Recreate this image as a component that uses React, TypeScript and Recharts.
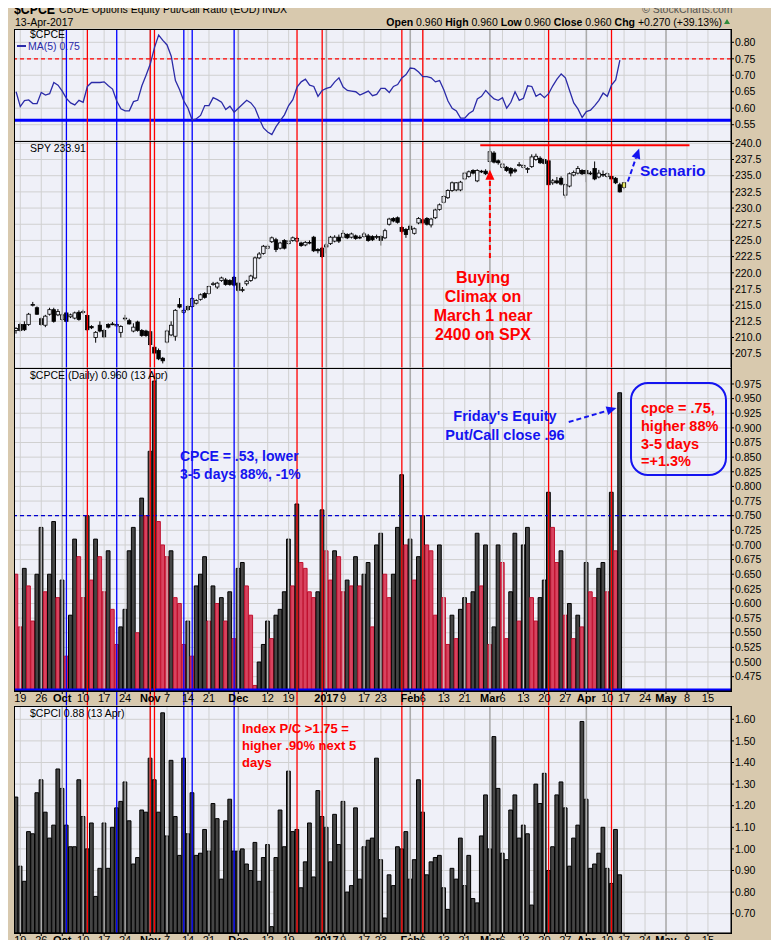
import React from 'react';
import { ComposedChart, Bar, Line, XAxis, YAxis, CartesianGrid, ReferenceLine, Cell } from 'recharts';

// $CPCE daily close, Sep 16 2016 .. Apr 13 2017
const cpce = [
  0.65, 0.56, 0.66, 0.63, 0.57, 0.65, 0.73, 0.62, 0.65, 0.74,
  0.61, 0.64, 0.51, 0.58, 0.71, 0.68, 0.61, 0.75, 0.64, 0.71,
  0.68, 0.62, 0.69, 0.59, 0.53, 0.56, 0.59, 0.69, 0.73, 0.55,
  0.78, 0.75, 0.86, 0.98, 0.74, 0.70, 0.68, 0.69, 0.61, 0.60,
  0.53, 0.57, 0.51, 0.63, 0.65, 0.68, 0.57, 0.63, 0.60, 0.61,
  0.57, 0.62, 0.54, 0.66, 0.67, 0.63, 0.58, 0.46, 0.50, 0.53,
  0.57, 0.54, 0.58, 0.59, 0.62, 0.71, 0.63, 0.77, 0.67, 0.66,
  0.62, 0.61, 0.62, 0.76, 0.69, 0.64, 0.69, 0.68, 0.62, 0.64,
  0.63, 0.68, 0.63, 0.65, 0.67, 0.56, 0.70, 0.72, 0.65, 0.61,
  0.65, 0.73, 0.82, 0.70, 0.71, 0.64, 0.68, 0.75, 0.70, 0.69,
  0.58, 0.70, 0.61, 0.53, 0.58, 0.54, 0.59, 0.61, 0.60, 0.62,
  0.72, 0.63, 0.70, 0.53, 0.56, 0.70, 0.67, 0.54, 0.62, 0.72,
  0.57, 0.70, 0.73, 0.61, 0.57, 0.61, 0.64, 0.79, 0.73, 0.67,
  0.69, 0.58, 0.60, 0.54, 0.58, 0.56, 0.67, 0.62, 0.61, 0.66,
  0.67, 0.62, 0.79, 0.69, 0.96,
];

// $CPCI daily close, same days
const cpci = [
  1.24, 0.92, 0.85, 1.08, 1.07, 1.26, 1.32, 1.17, 1.05, 1.11,
  1.37, 1.28, 1.11, 1.01, 1.01, 1.32, 1.15, 1.00, 1.12, 0.78,
  0.91, 1.12, 0.91, 1.10, 1.19, 1.22, 1.31, 1.13, 0.93, 0.96,
  1.18, 1.17, 1.42, 1.32, 1.17, 1.63, 1.06, 1.41, 1.15, 0.97,
  1.42, 1.07, 1.26, 0.97, 0.98, 1.09, 0.99, 1.21, 1.14, 0.86,
  1.13, 1.23, 0.99, 0.99, 1.00, 0.93, 0.90, 1.03, 0.85, 0.96,
  1.02, 0.64, 0.96, 1.18, 1.01, 1.36, 1.08, 1.09, 0.82, 0.94,
  1.12, 0.87, 1.27, 1.15, 1.10, 0.94, 1.16, 1.02, 1.22, 0.80,
  0.83, 1.19, 0.86, 1.01, 1.04, 1.05, 1.42, 0.95, 0.68, 0.88,
  0.83, 1.01, 1.00, 1.08, 0.86, 0.95, 1.32, 1.17, 0.88, 0.94,
  0.96, 0.97, 0.82, 0.72, 0.91, 0.86, 1.05, 0.83, 0.97, 0.77,
  0.75, 1.06, 1.25, 1.00, 1.52, 1.28, 0.98, 0.95, 1.18, 1.25,
  1.05, 1.11, 1.07, 0.74, 1.30, 1.21, 1.35, 0.90, 1.01, 1.25,
  1.31, 1.19, 0.92, 1.05, 1.11, 1.59, 1.23, 0.91, 0.93, 0.98,
  1.10, 0.91, 0.84, 1.09, 0.88,
];

// SPY candles, Sep 16 2016 .. Apr 17 2017 (last one is the live bar)
const spyOpen = [
  211.1, 212.0, 212.0, 212.0, 215.0, 214.6, 212.9, 211.9, 213.6, 214.3,
  213.5, 212.8, 213.8, 213.2, 213.0, 213.9, 213.9, 213.4, 211.7, 210.0,
  211.9, 211.1, 212.0, 212.1, 211.8, 210.8, 212.9, 212.6, 211.0, 212.4,
  211.1, 211.0, 210.9, 208.5, 208.0, 206.8, 209.3, 210.4, 210.2, 215.1,
  213.9, 214.8, 214.8, 215.3, 215.9, 216.8, 216.8, 218.2, 217.8, 218.8,
  218.9, 218.8, 219.3, 218.4, 217.4, 218.3, 218.8, 219.2, 222.3, 223.0,
  223.8, 224.8, 225.1, 223.8, 225.0, 224.5, 225.0, 224.9, 224.6, 224.3,
  224.6, 225.5, 223.6, 223.8, 224.0, 224.5, 224.9, 225.5, 225.5, 225.9,
  225.5, 225.7, 225.5, 225.6, 225.7, 225.6, 225.6, 225.6, 225.4, 227.5,
  228.4, 228.5, 227.0, 226.7, 227.2, 226.1, 227.7, 228.2, 228.4, 227.4,
  228.5, 229.8, 230.9, 231.6, 232.7, 232.8, 232.8, 234.5, 234.9, 235.8,
  234.2, 235.6, 235.7, 237.2, 238.5, 237.3, 236.3, 236.3, 236.1, 235.9,
  236.7, 236.3, 236.1, 236.4, 237.5, 237.7, 237.5, 237.3, 233.9, 234.2,
  234.6, 232.0, 233.4, 235.1, 235.4, 235.8, 235.8, 235.4, 236.1, 234.8,
  235.2, 234.9, 234.9, 234.6, 233.6, 233.2,
];
const spyHigh = [
  211.6, 212.3, 212.5, 213.8, 215.5, 214.8, 213.1, 213.5, 214.6, 214.6,
  214.4, 213.7, 214.0, 213.7, 214.0, 214.2, 214.3, 213.6, 211.9, 211.0,
  212.5, 211.3, 212.2, 212.4, 212.2, 211.9, 213.5, 212.9, 212.2, 212.6,
  211.3, 211.2, 211.1, 208.9, 208.3, 207.0, 211.2, 212.5, 214.4, 216.1,
  214.5, 215.0, 216.2, 215.9, 216.8, 217.0, 218.0, 218.6, 218.6, 219.4,
  219.2, 219.0, 219.5, 218.6, 217.8, 218.9, 219.7, 222.5, 223.2, 224.3,
  224.4, 225.6, 225.4, 224.8, 225.2, 225.1, 225.6, 225.5, 224.8, 224.9,
  225.0, 225.7, 223.8, 224.0, 224.6, 225.7, 225.8, 225.9, 226.6, 226.1,
  226.2, 225.9, 225.8, 226.3, 226.0, 225.8, 225.9, 225.8, 226.8, 228.5,
  228.6, 228.7, 227.2, 226.9, 227.5, 227.0, 228.6, 228.4, 228.6, 228.5,
  229.9, 230.7, 232.0, 232.9, 234.1, 234.0, 234.2, 235.6, 235.8, 236.0,
  236.0, 235.9, 236.0, 239.2, 238.8, 237.5, 237.0, 236.5, 236.3, 236.2,
  237.1, 236.8, 236.3, 238.3, 238.4, 238.0, 237.7, 237.6, 234.5, 234.8,
  234.9, 233.8, 235.5, 235.8, 236.5, 236.0, 236.0, 235.7, 237.2, 235.9,
  235.8, 235.5, 235.1, 234.8, 233.9, 234.0,
];
const spyLow = [
  210.6, 210.9, 211.0, 211.8, 214.8, 213.5, 211.8, 211.6, 213.4, 212.3,
  213.3, 212.6, 212.3, 213.0, 212.8, 212.6, 213.6, 211.0, 211.3, 209.2,
  210.8, 209.9, 211.4, 211.9, 211.6, 210.0, 212.6, 212.0, 210.8, 210.9,
  210.1, 210.1, 208.7, 207.4, 206.5, 206.0, 209.1, 210.2, 209.5, 214.5,
  213.6, 214.1, 214.6, 215.1, 215.7, 216.0, 216.6, 218.0, 217.5, 218.6,
  218.0, 218.0, 217.9, 217.0, 217.0, 218.0, 218.6, 219.0, 222.1, 222.8,
  223.6, 224.6, 223.2, 223.6, 223.6, 224.3, 224.8, 224.7, 224.0, 224.1,
  224.4, 223.2, 223.0, 222.3, 223.0, 224.3, 224.7, 224.6, 225.3, 225.2,
  225.3, 225.1, 225.2, 225.4, 224.8, 224.9, 225.2, 224.2, 225.2, 227.3,
  227.8, 227.6, 226.1, 225.4, 226.5, 225.9, 227.5, 227.5, 227.3, 227.0,
  228.3, 229.6, 230.7, 231.4, 232.5, 232.6, 232.6, 234.3, 234.7, 235.2,
  234.0, 235.4, 235.1, 237.0, 236.9, 236.7, 236.1, 235.6, 234.9, 235.4,
  236.4, 236.1, 235.4, 236.2, 237.3, 236.8, 236.7, 233.4, 233.6, 233.7,
  233.5, 231.5, 233.2, 234.9, 235.2, 235.1, 234.0, 235.1, 234.3, 234.6,
  234.8, 234.7, 234.3, 233.7, 232.4, 232.9,
];
const spyClose = [
  211.4, 211.1, 211.2, 213.6, 215.1, 213.6, 212.0, 213.3, 214.3, 212.5,
  214.0, 213.5, 212.5, 213.5, 213.8, 212.8, 214.0, 211.2, 211.5, 210.8,
  211.0, 210.1, 211.6, 212.1, 212.0, 211.7, 213.0, 212.1, 211.6, 211.1,
  210.3, 210.3, 208.9, 207.6, 206.7, 206.4, 211.0, 211.9, 214.2, 214.7,
  214.2, 214.3, 216.0, 215.7, 216.6, 216.2, 217.9, 218.3, 218.4, 219.2,
  218.2, 218.2, 218.1, 217.3, 217.4, 218.7, 219.5, 222.3, 222.9, 224.1,
  224.1, 225.4, 223.6, 224.6, 223.8, 224.9, 225.4, 225.3, 224.2, 224.7,
  224.7, 223.4, 223.4, 222.5, 224.3, 225.5, 225.5, 224.9, 226.1, 225.4,
  226.0, 225.3, 225.5, 226.0, 225.0, 225.1, 225.6, 225.0, 226.5, 228.3,
  228.0, 227.8, 226.4, 225.9, 226.7, 226.8, 228.4, 227.7, 227.5, 228.3,
  229.7, 230.5, 231.8, 232.7, 233.9, 233.9, 234.0, 235.4, 235.6, 235.4,
  235.8, 235.7, 235.3, 238.7, 237.1, 237.0, 236.8, 235.8, 235.4, 235.7,
  236.7, 236.6, 236.1, 237.9, 238.0, 237.0, 236.9, 233.6, 234.2, 233.9,
  233.7, 233.6, 235.3, 235.5, 236.1, 235.3, 235.3, 235.4, 234.5, 235.4,
  235.2, 235.3, 234.5, 233.9, 232.5, 233.91,
];

// x axis: trading-day slots, labels on Mondays / month starts
const xTicks = [1, 6, 11, 16, 21, 26, 32, 36, 41, 46, 53, 60, 65, 74, 78, 83, 87, 94, 97, 102, 107, 113, 116, 121, 126, 131, 136, 141, 145, 150, 155, 160, 165];
const xTickLabels = ['19', '26', 'Oct', '10', '17', '24', 'Nov', '7', '14', '21', 'Dec', '12', '19', '2017', '9', '17', '23', 'Feb', '6', '13', '21', 'Mar', '6', '13', '20', '27', 'Apr', '10', '17', '24', 'May', '8', '15'];
const monthLabels = ['Oct', 'Nov', 'Dec', '2017', 'Feb', 'Mar', 'Apr', 'May'];
const monthTicks = [11, 32, 53, 74, 94, 113, 136, 155];

// hand-drawn event lines
const redDays = [17, 32, 33, 67, 73, 92, 97, 127, 142];
const blueDays = [12, 24, 40, 42, 52];

const maTicks = [0.55, 0.6, 0.65, 0.7, 0.75, 0.8];
const spyTicks = [207.5, 210, 212.5, 215, 217.5, 220, 222.5, 225, 227.5, 230, 232.5, 235, 237.5, 240];
const cpceTicks = [0.475, 0.5, 0.525, 0.55, 0.575, 0.6, 0.625, 0.65, 0.675, 0.7, 0.725, 0.75, 0.775, 0.8, 0.825, 0.85, 0.875, 0.9, 0.925, 0.95, 0.975];
const cpciTicks = [0.7, 0.8, 0.9, 1.0, 1.1, 1.2, 1.3, 1.4, 1.5, 1.6];

const W = 779;
const H = 948;
const PLOT_LEFT = 14;
const AXIS_W = 48;
const X_AXIS_H = 15;
const PAD = 8; // room above each plot so the top tick label is not clipped
const SLOTS = 171;
const X_DOMAIN = [-0.5, SLOTS - 0.5];
const BG = '#EFF0F8';
const TAN = '#D8C9AE';
const GRID = '#D0D0D0';
const RED = '#FF0000';
const BLUE = '#0000FF';
const TXT_BLUE = '#1414F0';
const FONT = '"Liberation Sans", Arial, sans-serif';

const P_MA = { top: 29, h: 112 };
const P_SPY = { top: 141, h: 227 };
const P_CPCE = { top: 368, h: 323 };
const P_CPCI = { top: 706, h: 227 };

const ma5 = cpce.map((_, i) => {
  const w = cpce.slice(Math.max(0, i - 4), i + 1);
  return w.reduce((a, b) => a + b, 0) / w.length;
});

const cpceData = cpce.map((v, i) => ({ i, v, ma: ma5[i], up: i > 0 && v >= cpce[i - 1] }));
const cpciData = cpci.map((v, i) => ({ i, v }));
const spyData = spyClose.map((c, i) => ({
  i, o: spyOpen[i], h: spyHigh[i], l: spyLow[i], c, range: [spyLow[i], spyHigh[i]],
}));

const lastCpce = cpce[cpce.length - 1];
const prevCpce = cpce[cpce.length - 2];
const chg = lastCpce - prevCpce;

const XTick = (props: any) => {
  const { x, y, payload } = props;
  const k = xTicks.indexOf(payload.value);
  const label = k >= 0 ? xTickLabels[k] : '';
  const bold = monthLabels.includes(label);
  return (
    <text x={x} y={y} dy={2} dominantBaseline="central" textAnchor="middle" fontSize={11}
      fontWeight={bold ? 'bold' : 'normal'} fill="#000" fontFamily={FONT}>{label}</text>
  );
};

const Candle = (props: any) => {
  const { x, y, width, height, payload } = props;
  if (!payload || height == null || isNaN(height)) return <g />;
  const { o, h, l, c, i } = payload;
  const top = Math.min(y, y + height);
  const span = Math.abs(height);
  const ppu = span / (h - l);
  const cx = x + width / 2;
  const bTop = top + (h - Math.max(o, c)) * ppu;
  const bBot = top + (h - Math.min(o, c)) * ppu;
  const hollow = c >= o;
  const last = i === spyClose.length - 1;
  const fill = last ? '#FFFF00' : hollow ? BG : '#000';
  return (
    <g>
      <line x1={cx} x2={cx} y1={top} y2={top + span} stroke="#000" strokeWidth={1} />
      <rect x={cx - 1.7} y={bTop} width={3.4} height={Math.max(bBot - bTop, 0.8)} fill={fill} stroke="#000" strokeWidth={0.8} />
    </g>
  );
};

const vShape = (color: string, extend: number) => (p: any) => {
  const y1 = Math.min(p.y1, p.y2);
  const y2 = Math.max(p.y1, p.y2) + extend;
  return <line x1={p.x1} x2={p.x2} y1={y1} y2={y2} stroke={color} strokeWidth={1.3} />;
};

const arrowShape = (color: string) => (p: any) => {
  const { x1, y1, x2, y2 } = p;
  if ([x1, y1, x2, y2].some((v) => v == null || isNaN(v))) return <g />;
  const a = Math.atan2(y2 - y1, x2 - x1);
  const L = 10;
  const hw = 4.5;
  const bx = x2 - L * Math.cos(a);
  const by = y2 - L * Math.sin(a);
  const px = -Math.sin(a) * hw;
  const py = Math.cos(a) * hw;
  return (
    <g>
      <line x1={x1} y1={y1} x2={bx} y2={by} stroke={color} strokeWidth={2} strokeDasharray="5 3" />
      <polygon points={`${x2},${y2} ${bx + px},${by + py} ${bx - px},${by - py}`} fill={color} />
    </g>
  );
};

const xAxisEl = (show: boolean) => (
  <XAxis dataKey="i" type="number" domain={X_DOMAIN} ticks={xTicks} allowDataOverflow interval={0}
    hide={!show} height={X_AXIS_H} tick={<XTick />} tickSize={3} tickLine={{ stroke: '#000' }} axisLine={{ stroke: '#000' }} />
);

const yAxisEl = (domain: number[], ticks: number[], digits: number) => (
  <YAxis orientation="right" type="number" domain={domain} ticks={ticks} allowDataOverflow interval={0}
    width={AXIS_W} tickSize={3} tickMargin={1} axisLine={{ stroke: '#000' }} tickLine={{ stroke: '#000' }}
    tick={{ fontSize: 10.5, fill: '#000', fontFamily: FONT }} tickFormatter={(v: number) => v.toFixed(digits)} />
);

// weekly grid lines (light) and month lines (darker)
const timeGrid = () => [
  ...xTicks.filter((t) => !monthTicks.includes(t)).map((t) => (
    <ReferenceLine key={'w' + t} x={t} stroke={GRID} strokeWidth={1} />
  )),
  ...monthTicks.map((m) => <ReferenceLine key={'m' + m} x={m} stroke="#ABABAB" strokeWidth={1.6} />),
];

const eventLines = (extend: number) => [
  ...blueDays.map((d) => <ReferenceLine key={'b' + d} x={d} stroke={BLUE} shape={vShape(BLUE, extend)} />),
  ...redDays.map((d) => <ReferenceLine key={'r' + d} x={d} stroke={RED} shape={vShape(RED, extend)} />),
];

const margin = { top: PAD, right: 0, bottom: 0, left: PLOT_LEFT };

const abs = (left: number, top: number, extra: React.CSSProperties = {}): React.CSSProperties => ({
  position: 'absolute', left, top, whiteSpace: 'nowrap', ...extra,
});

const Frame = ({ p }: { p: { top: number; h: number } }) => (
  <div style={{ position: 'absolute', left: PLOT_LEFT, top: p.top, width: W - PLOT_LEFT - AXIS_W + 1, height: p.h + 1, border: '1px solid #000', boxSizing: 'border-box', pointerEvents: 'none' }} />
);

export default function App() {
  return (
    <div style={{ position: 'relative', width: W, height: H, margin: -8, background: TAN, overflow: 'hidden', fontFamily: FONT, color: '#000' }}>
      {/* MA(5) panel */}
      <div style={{ position: 'absolute', left: 0, top: P_MA.top - PAD }}>
        <ComposedChart width={W} height={P_MA.h + PAD} data={cpceData} margin={margin}>
          <CartesianGrid fill={BG} stroke={GRID} vertical={false} />
          {xAxisEl(false)}
          {yAxisEl([0.5005, 0.8404], maTicks, 2)}
          {timeGrid()}
          <ReferenceLine y={0.75} stroke={RED} strokeDasharray="4 3" strokeWidth={1.2} />
          <ReferenceLine y={0.5635} stroke={BLUE} strokeWidth={3} />
          {eventLines(0)}
          <Line dataKey="ma" type="linear" dot={false} stroke="#2B2BA8" strokeWidth={1.3} isAnimationActive={false} />
        </ComposedChart>
      </div>

      {/* SPY panel */}
      <div style={{ position: 'absolute', left: 0, top: P_SPY.top - PAD }}>
        <ComposedChart width={W} height={P_SPY.h + PAD} data={spyData} margin={margin}>
          <CartesianGrid fill={BG} stroke={GRID} vertical={false} />
          {xAxisEl(false)}
          {yAxisEl([205.29, 240.36], spyTicks, 1)}
          {timeGrid()}
          {eventLines(0)}
          <Bar dataKey="range" barSize={4} shape={Candle} isAnimationActive={false} />
          <ReferenceLine segment={[{ x: 110.7, y: 239.7 }, { x: 160.6, y: 239.7 }]} stroke={RED} strokeWidth={2} />
          <ReferenceLine segment={[{ x: 113, y: 222.3 }, { x: 113, y: 235.9 }]} shape={arrowShape(RED)} />
          <ReferenceLine segment={[{ x: 145.9, y: 234.1 }, { x: 148.6, y: 239.2 }]} shape={arrowShape(TXT_BLUE)} />
        </ComposedChart>
      </div>

      {/* CPCE daily bars */}
      <div style={{ position: 'absolute', left: 0, top: P_CPCE.top - PAD }}>
        <ComposedChart width={W} height={P_CPCE.h + X_AXIS_H + PAD} data={cpceData} margin={margin}>
          <CartesianGrid fill={BG} stroke={GRID} vertical={false} />
          {xAxisEl(true)}
          {yAxisEl([0.4505, 1.0023], cpceTicks, 3)}
          {timeGrid()}
          <Bar dataKey="v" barSize={4.2} isAnimationActive={false}>
            {cpceData.map((d) => (
              <Cell key={d.i} fill={d.up ? '#454545' : '#D8435F'} stroke={d.up ? '#000' : '#C0102E'} strokeWidth={1} />
            ))}
          </Bar>
          <ReferenceLine y={0.75} stroke="#0000D0" strokeDasharray="4 3" strokeWidth={1.2} />
          <ReferenceLine y={0.4525} stroke={BLUE} strokeWidth={2.5} />
          {eventLines(X_AXIS_H)}
          <ReferenceLine segment={[{ x: 131.8, y: 0.91 }, { x: 143.2, y: 0.934 }]} shape={arrowShape(TXT_BLUE)} />
        </ComposedChart>
      </div>

      {/* CPCI daily bars */}
      <div style={{ position: 'absolute', left: 0, top: P_CPCI.top - PAD }}>
        <ComposedChart width={W} height={P_CPCI.h + X_AXIS_H + PAD} data={cpciData} margin={margin}>
          <CartesianGrid fill={BG} stroke={GRID} vertical={false} />
          {xAxisEl(true)}
          {yAxisEl([0.6106, 1.6616], cpciTicks, 2)}
          {timeGrid()}
          <Bar dataKey="v" barSize={4.2} fill="#454545" stroke="#000" strokeWidth={1} isAnimationActive={false} />
          {eventLines(0)}
        </ComposedChart>
      </div>

      <Frame p={P_MA} />
      <Frame p={P_SPY} />
      <Frame p={P_CPCE} />
      <Frame p={P_CPCI} />

      {/* red marker line in the left margin */}
      <div style={{ position: 'absolute', left: 2.5, top: 29, width: 1.5, height: 904, background: RED }} />

      {/* header */}
      <div style={abs(14, 0, { fontSize: 15, fontWeight: 'bold', lineHeight: '18px', transform: 'scaleX(0.82)', transformOrigin: 'left center' })}>$CPCE</div>
      <div style={abs(59, 3, { fontSize: 10.5, lineHeight: '13px' })}>CBOE Options Equity Put/Call Ratio (EOD)</div>
      <div style={abs(262, 3, { fontSize: 10.5, lineHeight: '13px' })}>INDX</div>
      <div style={abs(15, 16, { fontSize: 10.5, lineHeight: '13px' })}>13-Apr-2017</div>
      <div style={abs(642, 3, { fontSize: 10.5, lineHeight: '13px', color: '#555' })}>© StockCharts.com</div>
      <div style={{ position: 'absolute', right: W - 722, top: 16, fontSize: 10.5, lineHeight: '13px', whiteSpace: 'nowrap' }}>
        <b>Open</b> {lastCpce.toFixed(3)} <b>High</b> {lastCpce.toFixed(3)} <b>Low</b> {lastCpce.toFixed(3)} <b>Close</b> {lastCpce.toFixed(3)} <b>Chg</b> +{chg.toFixed(3)} (+{(chg / prevCpce * 100).toFixed(2)}%)
      </div>
      <div style={{ position: 'absolute', left: 724, top: 19, width: 0, height: 0, borderLeft: '3.5px solid transparent', borderRight: '3.5px solid transparent', borderBottom: '5px solid #2E8B3A' }} />

      {/* panel legends */}
      <div style={abs(30, 28, { fontSize: 10.5, lineHeight: '13px' })}>$CPCE</div>
      <div style={{ position: 'absolute', left: 17, top: 45, width: 9, height: 2, background: '#2B2BA8' }} />
      <div style={abs(28, 40, { fontSize: 10.5, lineHeight: '13px', color: '#2B2BA8' })}>MA(5) {ma5[ma5.length - 1].toFixed(2)}</div>
      <div style={abs(30, 142, { fontSize: 10.5, lineHeight: '13px' })}>SPY {spyClose[spyClose.length - 1].toFixed(2)}</div>
      <div style={abs(30, 369, { fontSize: 10.5, lineHeight: '13px' })}>$CPCE (Daily) {lastCpce.toFixed(3)} (13 Apr)</div>
      <div style={abs(30, 707, { fontSize: 10.5, lineHeight: '13px' })}>$CPCI {cpci[cpci.length - 1].toFixed(2)} (13 Apr)</div>

      {/* annotations */}
      <div style={abs(383, 268, { width: 200, textAlign: 'center', fontSize: 16, fontWeight: 'bold', lineHeight: '19px', color: RED })}>
        Buying<br />Climax on<br />March 1 near<br />2400 on SPX
      </div>
      <div style={abs(640, 162, { fontSize: 15.5, fontWeight: 'bold', lineHeight: '18px', color: TXT_BLUE })}>Scenario</div>
      <div style={abs(180, 447, { fontSize: 14, fontWeight: 'bold', lineHeight: '18px', color: TXT_BLUE })}>
        CPCE = .53, lower<br />3-5 days 88%, -1%
      </div>
      <div style={abs(405, 407, { width: 200, textAlign: 'center', fontSize: 14.5, fontWeight: 'bold', lineHeight: '19px', color: TXT_BLUE })}>
        Friday's Equity<br />Put/Call close .96
      </div>
      <div style={{ position: 'absolute', left: 630, top: 382, width: 97, height: 94, border: `2px solid ${TXT_BLUE}`, borderRadius: 18, boxSizing: 'border-box' }} />
      <div style={abs(641, 400, { fontSize: 14.5, fontWeight: 'bold', lineHeight: '17.8px', color: RED })}>
        cpce = .75,<br />higher 88%<br />3-5 days<br />=+1.3%
      </div>
      <div style={abs(242, 720, { fontSize: 13, fontWeight: 'bold', lineHeight: '17.2px', color: RED })}>
        Index P/C &gt;1.75 =<br />higher .90% next 5<br />days
      </div>
    </div>
  );
}
